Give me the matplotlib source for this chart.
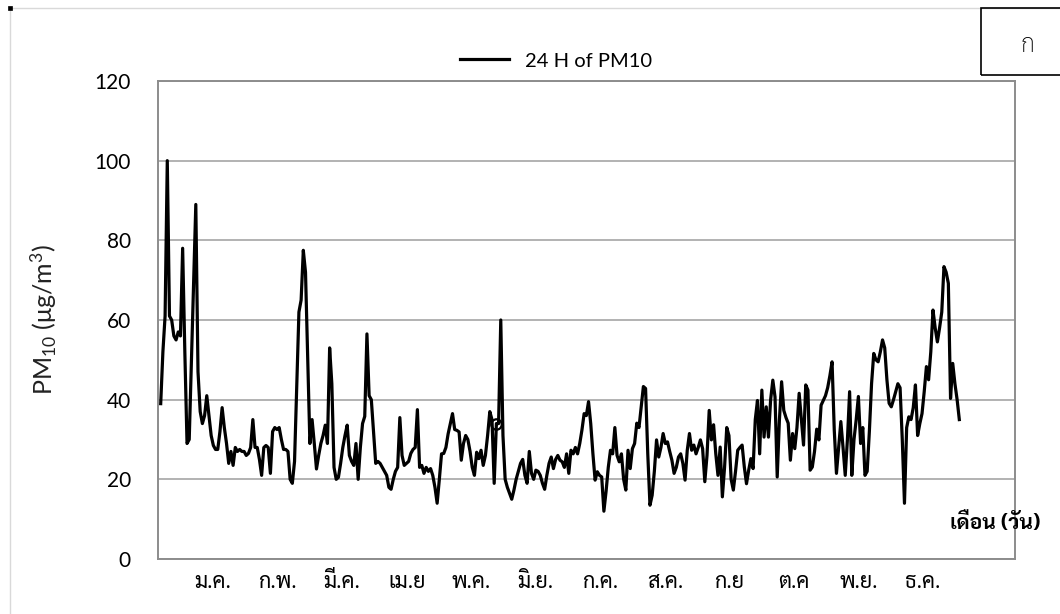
import matplotlib
matplotlib.use("Agg")
import matplotlib.pyplot as plt
from matplotlib.patches import Rectangle
from matplotlib.lines import Line2D
import numpy as np

# ---- data (daily 24-h PM10) ----
pm10_jan_feb = [39, 52, 61, 100, 61, 60, 56, 55, 57, 56,
                78, 52, 29, 30, 50, 70, 89, 47, 37, 34,
                36, 41, 36, 31, 28.5, 27.5, 27.5, 32, 38, 33,
                29, 24, 27, 23.5, 28, 27, 27.5, 27, 27, 26,
                26.5, 28, 35, 28, 28, 25, 21, 28, 28.5, 28,
                21.5, 32, 33, 32.5, 33, 30, 27.5, 27.5, 27, 20]
pm10_mar_apr = [19, 24.5, 43, 62, 65, 77.5, 72, 50, 29, 35,
                29, 22.6, 26, 29, 31, 33.6, 29, 53, 44, 23,
                20, 20.5, 24, 28, 31, 33.6, 26, 24.5, 23.5, 29,
                20, 28, 34, 35.8, 56.5, 41, 40, 32, 24, 24.5,
                24, 23, 22, 21, 18, 17.5, 20, 22, 23, 35.5,
                26, 23.5, 24, 24.5, 26.5, 27.5, 28, 37.5, 23, 23.5]
pm10_may_jun = [21.5, 23, 22, 22.7, 21, 18, 14, 20, 26.4, 26.5,
                28, 31.4, 34, 36.5, 32.5, 32.3, 31.9, 24.8, 29, 31,
                30, 27, 23, 21, 26.8, 25.2, 27.3, 23.5, 26, 31,
                37, 35, 19, 34, 34, 60, 31, 20, 18, 16.5,
                15, 17.3, 20, 22, 24, 25, 21, 19, 27, 21.5,
                20, 22.3, 22, 21, 19, 17.5, 21, 24, 25.6, 22.7]
pm10_jul_aug = [25, 26, 24.8, 24.4, 23, 26.4, 21.5, 27.3, 26.4, 28,
                26.4, 29, 32.4, 36.5, 36, 39.5, 34, 26.4, 19.8, 21.9,
                21, 20.6, 12, 17, 23, 27.3, 26.4, 33, 26, 24.4,
                26.4, 20, 17.3, 27.3, 22.7, 27.7, 29, 34.1, 33, 38.2,
                43.3, 42.8, 26.4, 13.5, 16, 22, 29.9, 25.6, 28, 31.5,
                29, 29.4, 27, 24.8, 21.5, 23, 25.6, 26.4, 24, 19.8]
pm10_sep_oct = [27.3, 31.5, 27.3, 28.6, 26.4, 28, 29.9, 27.7, 19.4, 26,
                37.3, 29.9, 33.7, 26.4, 21, 28.1, 15.6, 23, 33, 31,
                20, 17.3, 22, 27.3, 28, 28.6, 23.1, 18.9, 22.3, 25.2,
                22.7, 35, 39.8, 26.4, 42.4, 30.6, 38.2, 30.6, 40, 44.9,
                40.7, 20.6, 34.9, 44.5, 37.3, 35.5, 34.1, 24.8, 31.5, 27.7,
                33, 41.6, 35, 28.6, 43.7, 42.4, 22.3, 23.1, 27, 32.6]
pm10_nov_dec = [29.9, 38.6, 39.8, 41, 43, 46, 49.5, 32.4, 21.5, 28,
                34.5, 28, 21, 30, 42, 21, 30, 35, 40.8, 29,
                33, 21, 22, 32, 44, 51.6, 50, 49.5, 52, 55,
                53, 45, 39.1, 38.2, 40, 42, 44, 43, 30, 14,
                33, 35.7, 35, 38, 43.7, 31, 34, 36.5, 42, 48.3,
                45, 52, 62.5, 58, 54.5, 58, 62, 73.4, 72, 69.2,
                40.3, 49.1, 44, 40, 35]
ring_day = [153]   # the single ringed point on the line

months = ['ม.ค.', 'ก.พ.', 'มี.ค.', 'เม.ย', 'พ.ค.', 'มิ.ย.',
          'ก.ค.', 'ส.ค.', 'ก.ย', 'ต.ค', 'พ.ย.', 'ธ.ค.']
y_ticks = [0, 20, 40, 60, 80, 100, 120]
series_name = '24 H of PM10'

pm10 = np.array(pm10_jan_feb + pm10_mar_apr + pm10_may_jun +
                pm10_jul_aug + pm10_sep_oct + pm10_nov_dec, dtype=float)
days = np.arange(len(pm10))

plt.rcParams['font.family'] = ['Lato', 'Sarabun', 'DejaVu Sans']
plt.rcParams['mathtext.fontset'] = 'custom'
plt.rcParams['mathtext.rm'] = 'Lato'
plt.rcParams['mathtext.it'] = 'Lato'

W, H = 1060, 614
fig = plt.figure(figsize=(W / 100, H / 100), dpi=100)

# outer chart border (light grey) and small corner mark
fig.add_artist(Rectangle((10 / W, -0.05), 1.2, (H - 8) / H + 0.05,
                         transform=fig.transFigure, fill=False,
                         edgecolor='#d9d9d9', linewidth=1.0))
fig.add_artist(Rectangle((8 / W, (H - 10) / H), 4 / W, 4 / H,
                         transform=fig.transFigure, facecolor='black',
                         edgecolor='black', linewidth=0.5))

ax = fig.add_axes([158 / W, (H - 559) / H, (1015 - 158) / W, (559 - 81) / H])
line, = ax.plot(days, pm10, color='black', linewidth=2.3,
                solid_joinstyle='round',
                marker='o', markevery=ring_day, markersize=7.5,
                markerfacecolor='none', markeredgecolor='black',
                markeredgewidth=1.6)

px_per_day = 2.194
x0 = -(160.7 - 158) / px_per_day
x1 = (1015 - 160.7) / px_per_day
ax.set_xlim(x0, x1)
ax.set_ylim(0, 120)
ax.set_yticks(y_ticks)
ax.set_yticklabels([str(v) for v in y_ticks], fontsize=15)
tick_start = (213 - 160.7) / px_per_day
tick_step = 64.55 / px_per_day
ax.set_xticks([tick_start + k * tick_step for k in range(len(months))])
ax.set_xticklabels(months, fontsize=15.5, family=['Sarabun', 'DejaVu Sans'])
ax.tick_params(axis='both', length=0)
ax.tick_params(axis='y', pad=19.5)
ax.tick_params(axis='x', pad=9)
for s in ax.spines.values():
    s.set_color('#8c8c8c')
    s.set_linewidth(1.4)
ax.yaxis.grid(True, color='#a6a6a6', linewidth=1.2)
ax.set_axisbelow(True)

ax.set_ylabel(r'PM$_{10}$ ($\mathregular{\mu}$g/m$^{3}$)', fontsize=18,
              color='#222222')
ax.yaxis.set_label_coords(-0.115, 0.5)

# legend
leg = fig.legend([Line2D([0], [0], color='black', linewidth=2.3)], [series_name],
                 loc='center', bbox_to_anchor=(556 / W, (H - 61) / H),
                 frameon=False, fontsize=14.5, handlelength=2.4,
                 handletextpad=0.8)

# axis title at bottom right
fig.text(1041 / W, (H - 523) / H, 'เดือน (วัน)', ha='right', va='center',
         fontsize=15, fontweight='bold', family=['Sarabun', 'DejaVu Sans'])

# panel label box
fig.add_artist(Rectangle((981 / W, (H - 75) / H), 0.2, 67 / H,
                         transform=fig.transFigure, fill=False,
                         edgecolor='black', linewidth=1.2))
fig.text(1028 / W, (H - 46) / H, 'ก', ha='center', va='center',
         fontsize=18, fontweight='light', family=['Sarabun', 'DejaVu Sans'])

fig.savefig('out.png', dpi=100)
